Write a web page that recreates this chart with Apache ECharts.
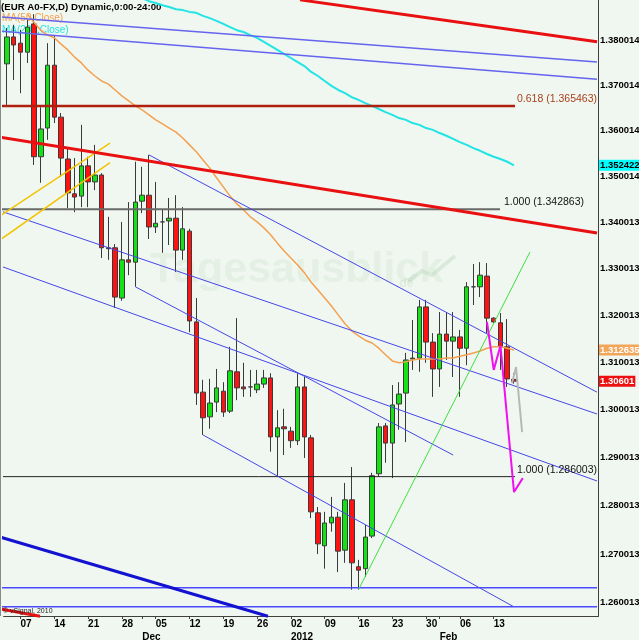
<!DOCTYPE html>
<html><head><meta charset="utf-8">
<script src="https://cdn.jsdelivr.net/npm/echarts@6.0.0/dist/echarts.min.js"></script>
<style>html,body{margin:0;padding:0;background:#f0f7f0;}#chart{width:639px;height:640px;}</style>
</head><body><div id="chart"></div>
<script>
// ---------- data ----------
const tradingDays = [
 '2011-11-03','2011-11-04','2011-11-07','2011-11-08','2011-11-09','2011-11-10','2011-11-11','2011-11-14','2011-11-15','2011-11-16',
 '2011-11-17','2011-11-18','2011-11-21','2011-11-22','2011-11-23','2011-11-24','2011-11-25','2011-11-28','2011-11-29','2011-11-30',
 '2011-12-01','2011-12-02','2011-12-05','2011-12-06','2011-12-07','2011-12-08','2011-12-09','2011-12-12','2011-12-13','2011-12-14',
 '2011-12-15','2011-12-16','2011-12-19','2011-12-20','2011-12-21','2011-12-22','2011-12-23','2011-12-26','2011-12-27','2011-12-28',
 '2011-12-29','2011-12-30','2012-01-02','2012-01-03','2012-01-04','2012-01-05','2012-01-06','2012-01-09','2012-01-10','2012-01-11',
 '2012-01-12','2012-01-13','2012-01-16','2012-01-17','2012-01-18','2012-01-19','2012-01-20','2012-01-23','2012-01-24','2012-01-25',
 '2012-01-26','2012-01-27','2012-01-30','2012-01-31','2012-02-01','2012-02-02','2012-02-03','2012-02-06','2012-02-07','2012-02-08',
 '2012-02-09','2012-02-10','2012-02-13','2012-02-14','2012-02-15','2012-02-16'];
const futureDays = ['2012-02-17','2012-02-20','2012-02-21','2012-02-22','2012-02-23','2012-02-24','2012-02-27','2012-02-28','2012-02-29','2012-03-01','2012-03-02','2012-03-05'];
const monthLabels = {'2011-12-01':'Dec','2012-01-02':'2012','2012-02-01':'Feb'};

const opens = [1.3748,1.3808,1.3794,1.3774,1.3837,1.3543,1.3606,1.3745,1.3630,1.3538,
 1.3462,1.3457,1.3523,1.3488,1.3503,1.3345,1.3345,1.3237,1.3319,1.3314,
 1.3446,1.3459,1.3390,1.3401,1.3403,1.3409,1.3340,1.3381,1.3186,1.3037,
 1.2985,1.3016,1.3039,1.2997,1.3080,1.3048,1.3048,1.3042,1.3054,1.3067,
 1.2943,1.2964,1.2955,1.2935,1.3048,1.2941,1.2785,1.2717,1.2764,1.2776,
 1.2708,1.2812,1.2674,1.2670,1.2737,1.2866,1.2966,1.2930,1.3012,1.3035,
 1.3107,1.3109,1.3218,1.3143,1.3086,1.3160,1.3145,1.3154,1.3130,1.3261,
 1.3261,1.3284,1.3194,1.3184,1.3133,1.3064];
const closes = [1.3808,1.3790,1.3774,1.3830,1.3543,1.3604,1.3745,1.3630,1.3540,1.3464,
 1.3455,1.3523,1.3488,1.3503,1.3345,1.3343,1.3239,1.3319,1.3314,1.3444,
 1.3459,1.3390,1.3398,1.3401,1.3409,1.3340,1.3386,1.3188,1.3035,1.2983,
 1.3014,1.3046,1.2995,1.3082,1.3046,1.3044,1.3048,1.3054,1.3067,1.2943,
 1.2962,1.2960,1.2935,1.3048,1.2943,1.2787,1.2721,1.2764,1.2776,1.2706,
 1.2812,1.2682,1.2667,1.2735,1.2862,1.2964,1.2930,1.3010,1.3033,1.3105,
 1.3109,1.3218,1.3143,1.3086,1.3160,1.3145,1.3154,1.3130,1.3261,1.3261,
 1.3286,1.3194,1.3186,1.3133,1.3065,1.30601];
const lows = [1.3657,1.3712,1.3683,1.3750,1.3525,1.3486,1.3580,1.3617,1.3499,1.3431,
 1.3422,1.3433,1.3433,1.3470,1.3323,1.3319,1.3216,1.3231,1.3286,1.3261,
 1.3420,1.3364,1.3377,1.3334,1.3351,1.3293,1.3319,1.3164,1.3010,1.2947,
 1.2960,1.2995,1.2985,1.2993,1.3020,1.3027,1.3027,1.3035,1.3046,1.2912,
 1.2860,1.2905,1.2920,1.2926,1.2899,1.2774,1.2700,1.2670,1.2746,1.2663,
 1.2682,1.2627,1.2627,1.2653,1.2733,1.2860,1.2889,1.2857,1.2958,1.2932,
 1.3084,1.3080,1.3099,1.3027,1.3048,1.3105,1.3069,1.3027,1.3094,1.3222,
 1.3239,1.3162,1.3184,1.3084,1.3048,1.3055];
const highs = [1.3828,1.3835,1.3824,1.3846,1.3859,1.3652,1.3794,1.3812,1.3639,1.3560,
 1.3540,1.3613,1.3543,1.3569,1.3507,1.3412,1.3353,1.3401,1.3444,1.3532,
 1.3521,1.3547,1.3488,1.3427,1.3453,1.3459,1.3433,1.3386,1.3237,1.3063,
 1.3065,1.3086,1.3058,1.3133,1.3194,1.3099,1.3084,1.3084,1.3084,1.3077,
 1.2999,1.3002,1.2964,1.3077,1.3069,1.2947,1.2797,1.2787,1.2818,1.2787,
 1.2847,1.2880,1.2688,1.2760,1.2868,1.2972,1.2972,1.3052,1.3058,1.3120,
 1.3190,1.3233,1.3233,1.3162,1.3207,1.3207,1.3207,1.3169,1.3271,1.3310,
 1.3314,1.3312,1.3196,1.3205,1.3192,1.3077];

const ma50 = [null,null,null,
 1.3859,1.3841,1.3823,1.3812,1.3806,1.3792,1.3779,1.3763,1.3750,1.3734,
 1.3721,1.3710,1.3703,1.3690,1.3677,1.3666,1.3655,1.3646,1.3635,1.3624,
 1.3615,1.3606,1.3597,1.3584,1.3569,1.3554,1.3536,1.3518,1.3497,1.3477,
 1.3457,1.3440,1.3427,1.3412,1.3401,1.3388,1.3373,1.3355,1.3338,1.3323,
 1.3308,1.3291,1.3271,1.3254,1.3237,1.3220,1.3201,1.3182,1.3167,1.3156,
 1.3147,1.3141,1.3130,1.3116,1.3103,1.3099,1.3101,1.3105,1.3107,1.3107,
 1.3107,1.3107,1.3109,1.3109,1.3113,1.3116,1.3120,1.3124,1.3130,1.3133,
 1.3133,1.3130,1.312635];
const ma200 = [null,null,null,null,null,null,null,null,null,null,
 null,null,null,null,null,null,null,null,null,null,
 1.3895,1.3888,1.3884,1.3879,1.3875,1.3870,1.3868,1.3864,1.3862,1.3855,
 1.3850,1.3844,1.3837,1.3830,1.3823,1.3819,1.3812,1.3806,1.3797,1.3788,
 1.3779,1.3770,1.3761,1.3752,1.3743,1.3730,1.3721,1.3710,1.3699,1.3690,
 1.3683,1.3674,1.3668,1.3661,1.3655,1.3648,1.3641,1.3635,1.3628,1.3624,
 1.3617,1.3613,1.3606,1.3602,1.3595,1.3589,1.3582,1.3575,1.3569,1.3562,
 1.3556,1.3549,1.3543,1.3538,1.3532,1.352422];

const yTickValues = [1.380014,1.370014,1.360014,1.350014,1.340013,1.330013,1.320013,1.310013,1.300013,1.290013,1.280013,1.270013,1.260013];
const yTickLabels = ['1.380014','1.370014','1.360014','1.350014','1.340013','1.330013','1.320013','1.310013','1.300013','1.290013','1.280013','1.270013','1.260013'];
const priceTop = 1.38907, priceBottom = 1.25734;

// drawn studies: [bar index, price]
const redTop    = [[43.35,1.3891],[87.28,1.3797]];
const redMid    = [[-1.03,1.3586],[87.28,1.3377]];
const redLow    = [[-1.03,1.2588],[4.88,1.2573]];
const fib618    = [[-1.03,1.365463],[75.15,1.365463]];
const fib100a   = [[-1.03,1.342863],[72.93,1.342863]];
const fib100b   = [[-1.03,1.286003],[75.15,1.286003]];
const blueTopA  = [[-1.03,1.3853],[87.28,1.3752]];
const blueTopB  = [[-1.03,1.3821],[87.28,1.3714]];
const blueL1    = [[21,1.3547],[87.28,1.3037]];
const blueL2    = [[-1.03,1.3425],[87.28,1.2991]];
const blueL3    = [[-1.03,1.3306],[87.28,1.2851]];
const blueL4    = [[19,1.3261],[66,1.2905]];
const blueL5    = [[29,1.2947],[75,1.2592]];
const blueH1    = [[-1.03,1.2631],[87.28,1.2631]];
const blueH2    = [[-1.03,1.2592],[87.28,1.2592]];
const blueThick = [[-1.03,1.2735],[38.6,1.2573]];
const greenTrend= [[52,1.2627],[77.37,1.3336]];
const yellowA   = [[-1.03,1.3414],[15.24,1.3573]];
const yellowB   = [[-1.03,1.3362],[15.24,1.3530]];
const magentaPath = [[71,1.3186],[72,1.3084],[73,1.3135],[75,1.2828],[76.3,1.2857]];
const grayPath  = [[74.7,1.3056],[75.3,1.3090],[76.2,1.2953]];

// ---------- chart ----------
const FONT = '"Liberation Sans",Arial,sans-serif';
const L = Math.log;
const categories = tradingDays.concat(futureDays);
const nBars = tradingDays.length;
const candleData = opens.map((o,i)=>[L(o),L(closes[i]),L(lows[i]),L(highs[i])]);

function xLabel(i){
  if (i >= nBars) return null;
  const d = tradingDays[i];
  const isMon = new Date(d + 'T12:00:00Z').getUTCDay() === 1;
  const m = monthLabels[d];
  if (isMon && m) return d.slice(8) + '\n' + m;
  if (isMon) return d.slice(8);
  if (m) return '\n' + m;
  return null;
}
function yLabel(v){
  let best = 0, bd = 1e9;
  yTickValues.forEach((t,i)=>{ const dd = Math.abs(L(t)-v); if (dd < bd){bd = dd; best = i;} });
  return yTickLabels[best];
}
function seg(data, color, width, extra){
  return Object.assign({type:'line', xAxisIndex:1, yAxisIndex:0, symbol:'none', clip:false, silent:true,
    data: data.map(p=>[p[0], L(p[1])]), lineStyle:{color:color, width:width}, z:4}, extra||{});
}

const chart = echarts.init(document.getElementById('chart'));
const option = {
  animation:false,
  backgroundColor:'#f0f7f0',
  grid:{left:3.6, right:40.5, top:0, bottom:24, containLabel:false, outerBoundsMode:'none'},
  xAxis:[{
    type:'category', data:categories, boundaryGap:true, gridIndex:0,
    axisLine:{show:true, onZero:false, lineStyle:{color:'#404040', width:1}},
    axisTick:{show:true, alignWithLabel:true, length:3, interval:(i)=>xLabel(i)!==null, lineStyle:{color:'#404040'}},
    axisLabel:{interval:(i)=>xLabel(i)!==null, formatter:(v,i)=>xLabel(i)||'', align:'left', margin:2,
      fontFamily:FONT, fontWeight:'bold', fontSize:10, lineHeight:13, color:'#000'},
    splitLine:{show:false}
  },{
    type:'value', min:-0.5, max:categories.length-0.5, show:false, gridIndex:0,
    axisLine:{onZero:false}
  }],
  yAxis:[{
    type:'value', position:'right', min:L(priceBottom), max:L(priceTop),
    axisLine:{show:true, onZero:false, lineStyle:{color:'#404040', width:1}},
    axisTick:{show:false, customValues:yTickValues.map(L)},
    axisLabel:{customValues:yTickValues.map(L), formatter:yLabel, margin:1.5, fontFamily:FONT, fontWeight:'bold', fontSize:9.5, color:'#000'},
    splitLine:{show:false}
  }],
  series:[
    {type:'candlestick', xAxisIndex:0, yAxisIndex:0, data:candleData, barWidth:5, z:2,
     itemStyle:{color:'#14e214', color0:'#ff1212', borderColor:'#3a3a3a', borderColor0:'#3a3a3a', borderColorDoji:'#3a3a3a', borderWidth:1}},
    {type:'line', xAxisIndex:0, yAxisIndex:0, data:ma50.map(v=>v==null?null:L(v)), symbol:'none', silent:true, z:3,
     lineStyle:{color:'#f4a050', width:1.5}},
    {type:'line', xAxisIndex:0, yAxisIndex:0, data:ma200.map(v=>v==null?null:L(v)), symbol:'none', silent:true, z:3,
     lineStyle:{color:'#22e4e4', width:2}},
    seg(fib618, '#b0200e', 2.5, {endLabel:{show:true, formatter:'0.618 (1.365463)', color:'#a8401c', fontFamily:FONT, fontSize:10.5, distance:2, offset:[0,-7]}}),
    seg(fib100a, '#6a6a6a', 2, {endLabel:{show:true, formatter:'1.000 (1.342863)', color:'#111', fontFamily:FONT, fontSize:10.5, distance:4, offset:[0,-7]}}),
    seg(fib100b, '#222', 1, {endLabel:{show:true, formatter:'1.000 (1.286003)', color:'#111', fontFamily:FONT, fontSize:10.5, distance:2, offset:[0,-7]}}),
    seg(blueTopA, '#6464ee', 1.5),
    seg(blueTopB, '#6464ee', 1.5),
    seg(blueL1, '#4646e8', 1),
    seg(blueL2, '#4646e8', 1),
    seg(blueL3, '#4646e8', 1),
    seg(blueL4, '#4646e8', 1),
    seg(blueL5, '#4646e8', 1),
    seg(blueH1, '#4a4aff', 1.5),
    seg(blueH2, '#4a4aff', 1.5),
    seg(blueThick, '#1212d0', 3),
    seg(greenTrend, '#40e040', 1),
    seg(yellowA, '#f2c400', 1.5),
    seg(yellowB, '#f2c400', 1.5),
    seg(redTop, '#e81010', 3),
    seg(redMid, '#e81010', 3),
    seg(redLow, '#e81010', 3),
    seg(magentaPath, '#f010f0', 2),
    seg(grayPath, '#b8b8b8', 2)
  ]
};
chart.setOption(option);

// value tags on the price axis
const tagY = v => chart.convertToPixel({yAxisIndex:0}, L(v));
const tags = [
  {v:ma200[ma200.length-1], text:'1.352422', bg:'#00ffff', fg:'#000'},
  {v:ma50[ma50.length-1], text:'1.312635', bg:'#f4a658', fg:'#fff'},
  {v:closes[closes.length-1], text:'1.30601', bg:'#ee1010', fg:'#fff'}
];
chart.setOption({graphic:[
  {type:'text', x:1, y:7, z:0, style:{text:'(EUR A0-FX,D) Dynamic,0:00-24:00', font:'bold 9.7px '+FONT, fill:'#000', verticalAlign:'middle'}},
  {type:'text', x:2, y:18, z:0, style:{text:'MA(50,Close)', font:'10px '+FONT, fill:'#f4a050', verticalAlign:'middle'}},
  {type:'text', x:2, y:30, z:0, style:{text:'MA(200,Close)', font:'10px '+FONT, fill:'#22e4e4', verticalAlign:'middle'}},
  {type:'text', x:150, y:270, z:0, style:{text:'Tagesausblick', font:'bold 43px '+FONT, fill:'rgba(170,205,170,0.16)', verticalAlign:'middle'}},
  {type:'text', x:396, y:284, z:0, style:{text:'.de', font:'bold 12px '+FONT, fill:'rgba(170,205,170,0.25)', verticalAlign:'middle'}},
  {type:'polyline', z:0, shape:{points:[[408,281],[422,271],[432,275],[455,256]]}, style:{stroke:'rgba(170,205,170,0.3)', lineWidth:4, fill:null}},
  {type:'text', x:3, y:611, z:5, style:{text:'© vSignal, 2010', font:'7px '+FONT, fill:'#222', verticalAlign:'middle'}},
  {type:'line', z:5, shape:{x1:0.5, y1:0, x2:0.5, y2:616}, style:{stroke:'#8a8a8a', lineWidth:1}}
].concat(tags.map(t=>({type:'text', x:599, y:tagY(t.v), z:10,
   style:{text:t.text, font:'bold 9.5px '+FONT, fill:t.fg, backgroundColor:t.bg, padding:[1,1,0,1], verticalAlign:'middle'}})))});
</script>
</body></html>
